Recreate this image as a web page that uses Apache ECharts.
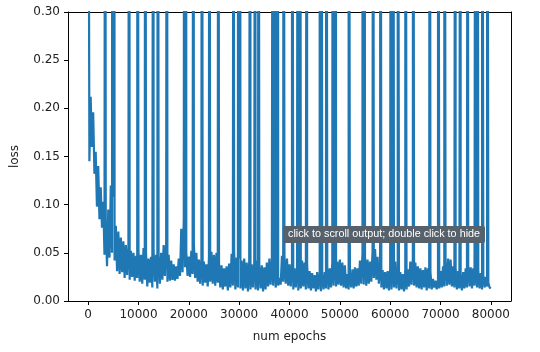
<!DOCTYPE html>
<html>
<head>
<meta charset="utf-8">
<script src="https://cdn.jsdelivr.net/npm/echarts@6/dist/echarts.min.js"></script>
<style>
	html, body { margin: 0; padding: 0; background: #fff; }
	#loss_chart { width: 540px; height: 352px; }
</style>
</head>
<body>
<div id="loss_chart"></div>
<script>
// loss is logged once every 250 epochs
const recordEvery = 250;

// base loss curve (one value per record)
const lossLog = [
	0.69, 0.145, 0.212, 0.16, 0.196, 0.132, 0.155, 0.098, 0.14, 0.085,
	0.118, 0.076, 0.103, 0.048, 0.082, 0.036, 0.095, 0.045, 0.12, 0.05,
	0.108, 0.042, 0.078, 0.031, 0.072, 0.028, 0.066, 0.03, 0.062, 0.024,
	0.058, 0.027, 0.055, 0.022, 0.052, 0.025, 0.05, 0.021, 0.047, 0.024,
	// 10000
	0.052, 0.02, 0.048, 0.018, 0.055, 0.022, 0.05, 0.015, 0.044, 0.019,
	0.046, 0.014, 0.052, 0.02, 0.048, 0.013, 0.045, 0.018, 0.05, 0.022,
	0.058, 0.026, 0.061, 0.02, 0.048, 0.021, 0.042, 0.022, 0.038, 0.021,
	0.036, 0.023, 0.044, 0.026, 0.075, 0.03, 0.085, 0.035, 0.05, 0.026,
	// 20000
	0.046, 0.025, 0.052, 0.028, 0.061, 0.024, 0.05, 0.02, 0.043, 0.018,
	0.044, 0.016, 0.041, 0.019, 0.038, 0.015, 0.045, 0.02, 0.051, 0.018,
	0.048, 0.016, 0.05, 0.019, 0.04, 0.014, 0.037, 0.012, 0.034, 0.015,
	0.036, 0.011, 0.039, 0.014, 0.049, 0.016, 0.051, 0.012, 0.045, 0.014,
	// 30000
	0.044, 0.013, 0.042, 0.011, 0.044, 0.013, 0.04, 0.01, 0.041, 0.012,
	0.038, 0.014, 0.04, 0.012, 0.042, 0.011, 0.036, 0.013, 0.037, 0.01,
	0.035, 0.012, 0.04, 0.015, 0.044, 0.017, 0.042, 0.016, 0.038, 0.014,
	0.026, 0.016, 0.024, 0.017, 0.047, 0.02, 0.045, 0.018, 0.044, 0.016,
	// 40000
	0.038, 0.015, 0.039, 0.012, 0.034, 0.014, 0.036, 0.011, 0.033, 0.013,
	0.042, 0.015, 0.04, 0.012, 0.038, 0.013, 0.031, 0.011, 0.029, 0.013,
	0.027, 0.01, 0.03, 0.012, 0.028, 0.01, 0.026, 0.012, 0.03, 0.013,
	0.036, 0.012, 0.034, 0.014, 0.04, 0.016, 0.044, 0.015, 0.041, 0.017,
	// 50000
	0.043, 0.016, 0.04, 0.014, 0.037, 0.013, 0.028, 0.012, 0.027, 0.014,
	0.033, 0.013, 0.035, 0.015, 0.034, 0.016, 0.042, 0.018, 0.05, 0.017,
	0.046, 0.016, 0.043, 0.018, 0.041, 0.02, 0.052, 0.024, 0.054, 0.022,
	0.046, 0.018, 0.035, 0.014, 0.032, 0.012, 0.03, 0.013, 0.031, 0.011,
	// 60000
	0.034, 0.012, 0.04, 0.014, 0.041, 0.013, 0.036, 0.011, 0.03, 0.012,
	0.028, 0.01, 0.031, 0.012, 0.033, 0.015, 0.041, 0.017, 0.044, 0.016,
	0.04, 0.014, 0.036, 0.013, 0.034, 0.012, 0.032, 0.014, 0.035, 0.011,
	0.034, 0.013, 0.03, 0.012, 0.023, 0.014, 0.021, 0.012, 0.022, 0.013,
	// 70000
	0.031, 0.014, 0.036, 0.015, 0.04, 0.016, 0.044, 0.017, 0.043, 0.015,
	0.036, 0.014, 0.034, 0.012, 0.031, 0.013, 0.028, 0.011, 0.03, 0.013,
	0.034, 0.014, 0.037, 0.015, 0.035, 0.013, 0.034, 0.016, 0.036, 0.014,
	0.031, 0.013, 0.029, 0.012, 0.027, 0.014, 0.025, 0.015, 0.019, 0.014,
	0.013
];

// epochs where the loss blew up far past the top of the plot
const spikeEpochs = [
	3380, 4800, 5200, 8150, 9800, 11330, 12980, 13860, 15650, 19100, 19450,
	20940, 22600, 24060, 25850, 28890, 29800, 30200, 32200, 33200, 33860,
	36700, 37100, 37710, 38830, 40500, 41650, 42100, 43480, 46000, 46350,
	47320, 48600, 49200, 51750, 54500, 54900, 56600, 58050, 60150, 60600,
	61500, 63020, 64550, 67860, 69520, 70780, 72960, 73960, 75400, 76950,
	77350, 78270, 79260
];
const spikeLoss = 0.9;

const xTicks = [0, 10000, 20000, 30000, 40000, 50000, 60000, 70000, 80000];
const yTicks = [0, 0.05, 0.1, 0.15, 0.2, 0.25, 0.3];

function build_points() {
	let pts = lossLog.map((v, i) => [i * recordEvery, v]);
	spikeEpochs.forEach((e) => {
		pts.push([e, spikeLoss]);
	});
	pts.sort((a, b) => a[0] - b[0]);
	return pts;
}

function draw_chart() {
	var chart = echarts.init(document.getElementById('loss_chart'), null, { renderer: 'canvas' });
	var font = 'DejaVu Sans';
	var overlayMsg = 'click to scroll output; double click to hide';
	var spine = { show: true, onZero: false, lineStyle: { color: '#000', width: 1 } };
	var xMin = -4000;
	var xMax = 84000;

	chart.setOption({
		animation: false,
		backgroundColor: '#fff',
		grid: {
			left: 68,
			right: 29,
			top: 12,
			bottom: 51,
			containLabel: false,
			outerBoundsMode: 'none',
		},
		xAxis: [
			{
				type: 'value',
				min: xMin,
				max: xMax,
				name: 'num epochs',
				nameLocation: 'middle',
				nameGap: 30,
				nameTextStyle: { fontFamily: font, fontSize: 12, color: '#222' },
				axisLine: spine,
				splitLine: { show: false },
				axisTick: {
					show: true,
					length: 4,
					customValues: xTicks,
					lineStyle: { color: '#000' },
				},
				axisLabel: {
					customValues: xTicks,
					margin: 8,
					fontFamily: font,
					fontSize: 12,
					color: '#222',
					formatter: (v) => String(v),
				},
			},
			{
				// top spine only
				type: 'value',
				position: 'top',
				min: xMin,
				max: xMax,
				axisLine: spine,
				axisTick: { show: false },
				axisLabel: { show: false },
				splitLine: { show: false },
			},
		],
		yAxis: [
			{
				type: 'value',
				min: yTicks[0],
				max: yTicks[yTicks.length - 1],
				interval: 0.05,
				name: 'loss',
				nameLocation: 'middle',
				nameGap: 47,
				nameTextStyle: { fontFamily: font, fontSize: 12, color: '#222' },
				axisLine: spine,
				splitLine: { show: false },
				axisTick: { show: true, length: 4, lineStyle: { color: '#000' } },
				axisLabel: {
					margin: 8,
					fontFamily: font,
					fontSize: 12,
					color: '#222',
					formatter: (v) => v.toFixed(2),
				},
			},
			{
				// right spine only
				type: 'value',
				position: 'right',
				min: yTicks[0],
				max: yTicks[yTicks.length - 1],
				axisLine: spine,
				axisTick: { show: false },
				axisLabel: { show: false },
				splitLine: { show: false },
			},
		],
		series: [
			{
				type: 'line',
				xAxisIndex: 0,
				yAxisIndex: 0,
				data: build_points(),
				showSymbol: false,
				clip: true,
				lineStyle: { color: '#1f77b4', width: 2.2, join: 'bevel' },
			},
		],
		// jupyter output overlay
		graphic: [
			{
				type: 'rect',
				left: 283,
				top: 226,
				z: 100,
				shape: { width: 202, height: 17, r: 2 },
				style: { fill: '#56616c' },
			},
			{
				type: 'text',
				left: 288,
				top: 229,
				z: 101,
				style: {
					text: overlayMsg,
					fill: '#fff',
					font: '10.8px "Liberation Sans"',
				},
			},
		],
	});
}

draw_chart();
</script>
</body>
</html>
